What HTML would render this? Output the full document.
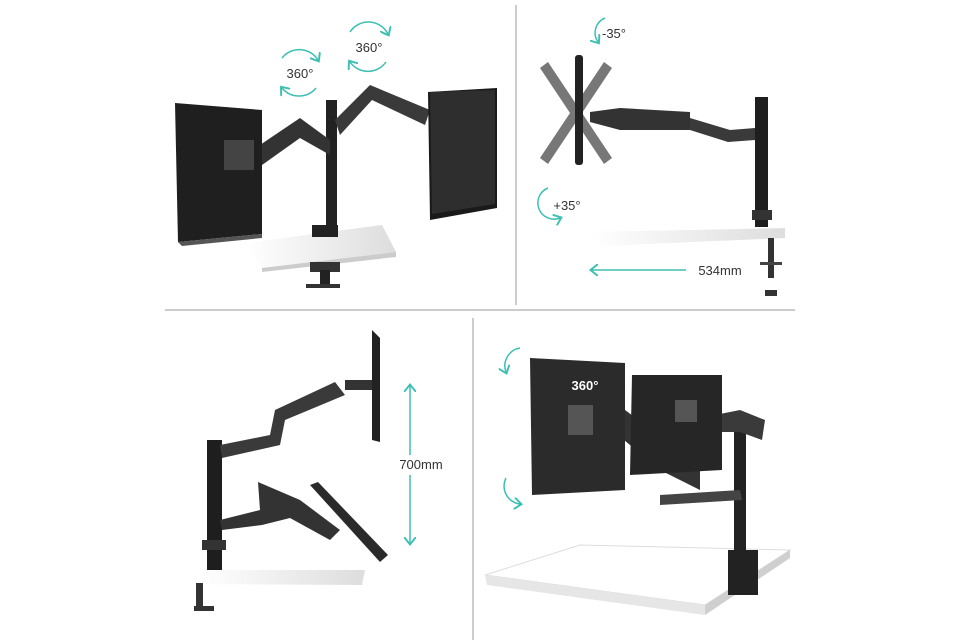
<!DOCTYPE html>
<html><head><meta charset="utf-8"><style>
html,body{margin:0;padding:0;background:#fff;}
svg{display:block}
text{font-family:"Liberation Sans",sans-serif;}
</style></head><body>
<svg width="960" height="640" viewBox="0 0 960 640" xmlns="http://www.w3.org/2000/svg">
<defs>
<marker id="ah" markerWidth="8" markerHeight="8" refX="4" refY="4" orient="auto"><path d="M0,0 L5,4 L0,8" fill="none" stroke="#3dbfb3" stroke-width="1.3"/></marker>
<linearGradient id="desk" x1="0" x2="1"><stop offset="0" stop-color="#fff"/><stop offset="1" stop-color="#ddd"/></linearGradient>
</defs>
<rect width="960" height="640" fill="#fff"/>
<!-- dividers -->
<line x1="516" y1="5" x2="516" y2="305" stroke="#ccc" stroke-width="2"/>
<line x1="165" y1="310" x2="795" y2="310" stroke="#ccc" stroke-width="2"/>
<line x1="473" y1="318" x2="473" y2="640" stroke="#ccc" stroke-width="2"/>

<!-- PANEL 1 -->
<polygon points="245,243 382,225 396,252 262,268" fill="url(#desk)"/>
<polygon points="262,268 396,252 396,257 262,272" fill="#ccc"/>
<rect x="312" y="225" width="26" height="12" fill="#222"/>
<rect x="310" y="262" width="30" height="10" fill="#333"/>
<rect x="320" y="270" width="10" height="18" fill="#222"/>
<rect x="306" y="284" width="34" height="4" fill="#333"/>
<rect x="326" y="100" width="11" height="128" fill="#222"/>
<polygon points="330,140 300,118 245,155 255,170 300,138 330,155" fill="#333"/>
<polygon points="335,120 370,85 430,110 425,125 372,100 340,135" fill="#3a3a3a"/>
<polygon points="175,103 262,110 262,234 178,242" fill="#1f1f1f"/>
<polygon points="178,242 262,234 262,238 182,246" fill="#555"/>
<rect x="224" y="140" width="30" height="30" fill="#444"/>
<polygon points="428,92 497,88 497,208 430,220" fill="#1a1a1a"/>
<polygon points="430,92 495,90 495,204 432,214" fill="#2e2e2e"/>
<g fill="none" stroke="#3dbfb3" stroke-width="1.5">
<path d="M282,58 A22,22 0 0 1 318,60" marker-end="url(#ah)"/>
<path d="M316,88 A22,22 0 0 1 282,88" marker-end="url(#ah)"/>
<path d="M350,32 A22,22 0 0 1 388,34" marker-end="url(#ah)"/>
<path d="M386,62 A22,22 0 0 1 350,62" marker-end="url(#ah)"/>
</g>
<text x="300" y="78" font-size="13" fill="#333" text-anchor="middle">360°</text>
<text x="369" y="52" font-size="13" fill="#333" text-anchor="middle">360°</text>

<!-- PANEL 2 -->
<polygon points="590,232 785,228 785,238 600,246" fill="url(#desk)"/>
<rect x="755" y="97" width="13" height="130" fill="#1e1e1e"/>
<rect x="752" y="210" width="20" height="10" fill="#333"/>
<rect x="768" y="238" width="6" height="40" fill="#333"/>
<rect x="765" y="290" width="12" height="6" fill="#333"/>
<rect x="760" y="262" width="22" height="3" fill="#444"/>
<polygon points="590,112 620,108 690,112 690,130 620,130 590,122" fill="#333"/>
<polygon points="690,118 730,130 755,128 755,140 728,142 690,130" fill="#3a3a3a"/>
<polygon points="540,68 548,62 612,158 604,164" fill="#777"/>
<polygon points="604,62 612,68 548,164 540,158" fill="#777"/>
<rect x="575" y="55" width="8" height="110" fill="#222" rx="3"/>
<g fill="none" stroke="#3dbfb3" stroke-width="1.5">
<path d="M605,18 A16,16 0 0 0 598,42" marker-end="url(#ah)"/>
<path d="M548,188 A16,16 0 0 0 560,218" marker-end="url(#ah)"/>
<line x1="686" y1="270" x2="592" y2="270" marker-end="url(#ah)"/>
</g>
<text x="614" y="38" font-size="13" fill="#333" text-anchor="middle">-35°</text>
<text x="567" y="210" font-size="13" fill="#333" text-anchor="middle">+35°</text>
<text x="720" y="275" font-size="13" fill="#333" text-anchor="middle">534mm</text>

<!-- PANEL 4 desk first etc -->
<!-- PANEL 3 -->
<polygon points="200,570 365,570 362,585 200,584" fill="url(#desk)"/>
<rect x="207" y="440" width="15" height="130" fill="#1e1e1e"/>
<rect x="202" y="540" width="24" height="10" fill="#333"/>
<rect x="196" y="583" width="7" height="25" fill="#333"/>
<rect x="194" y="606" width="20" height="5" fill="#333"/>
<polygon points="220,445 270,435 275,410 335,382 345,395 285,420 280,445 222,458" fill="#3a3a3a"/>
<rect x="345" y="380" width="28" height="10" fill="#333"/>
<polygon points="372,330 380,338 380,442 372,440" fill="#222"/>
<polygon points="220,520 260,510 258,482 300,500 340,530 330,540 290,518 262,525 222,530" fill="#333"/>
<polygon points="310,485 318,482 388,555 380,562" fill="#2a2a2a"/>
<g fill="none" stroke="#3dbfb3" stroke-width="1.5">
<line x1="410" y1="455" x2="410" y2="386" marker-end="url(#ah)"/>
<line x1="410" y1="475" x2="410" y2="543" marker-end="url(#ah)"/>
</g>
<text x="421" y="469" font-size="13" fill="#333" text-anchor="middle">700mm</text>

<!-- PANEL 4 -->
<polygon points="485,575 580,545 790,550 705,605" fill="#fff" stroke="#ddd"/>
<polygon points="485,575 705,605 705,615 487,585" fill="#e6e6e6"/>
<polygon points="705,605 790,550 790,558 705,615" fill="#cfcfcf"/>
<rect x="734" y="420" width="12" height="135" fill="#222"/>
<rect x="728" y="550" width="30" height="45" fill="#222"/>
<polygon points="600,420 625,410 700,465 700,490 660,470" fill="#333"/>
<polygon points="690,420 740,410 765,420 762,440 740,432 700,432" fill="#3a3a3a"/>
<polygon points="660,495 740,490 742,500 660,505" fill="#444"/>
<polygon points="632,375 722,375 722,470 630,475" fill="#262626"/>
<polygon points="530,358 625,363 625,490 532,495" fill="#2b2b2b"/>
<rect x="568" y="405" width="25" height="30" fill="#555"/>
<rect x="675" y="400" width="22" height="22" fill="#555"/>
<text x="585" y="390" font-size="13" fill="#fff" font-weight="bold" text-anchor="middle">360°</text>
<g fill="none" stroke="#3dbfb3" stroke-width="1.5">
<path d="M520,348 A18,18 0 0 0 506,372" marker-end="url(#ah)"/>
<path d="M506,478 A18,18 0 0 0 520,504" marker-end="url(#ah)"/>
</g>
</svg>
</body></html>
